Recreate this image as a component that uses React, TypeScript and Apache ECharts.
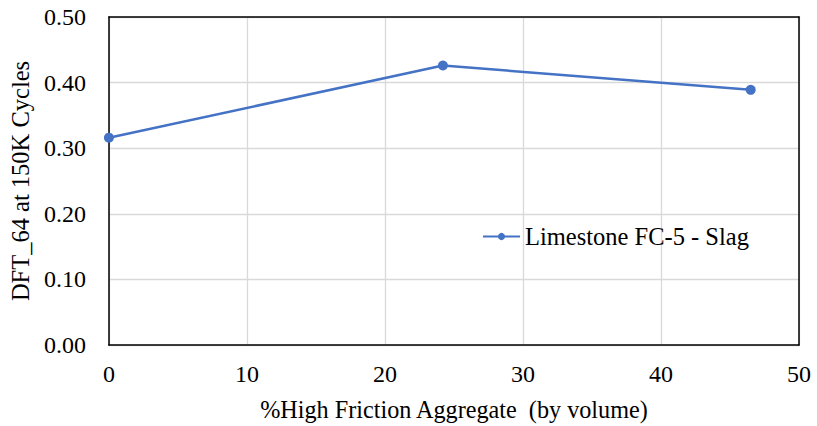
import React, { useEffect, useRef } from "react";
import * as echarts from "echarts";

const xValues = [0, 24.2, 46.5];
const yValues = [0.316, 0.426, 0.389];
const seriesName = "Limestone FC-5 - Slag";
const xTitle = "%High Friction Aggregate  (by volume)";
const yTitle = "DFT_64 at 150K Cycles";

export default function App() {
  const ref = useRef<HTMLDivElement>(null);
  useEffect(() => {
    if (!ref.current) return;
    const chart = echarts.init(ref.current, undefined, { renderer: "svg" });
    const font = "Liberation Serif";
    const txt = { fontFamily: font, fontSize: 24, color: "#000" };
    const border = { show: true, lineStyle: { color: "#000", width: 1.5 } };
    chart.setOption({
      animation: false,
      backgroundColor: "#ffffff",
      textStyle: { fontFamily: font },
      grid: {
        left: 105,
        top: 17,
        right: 18,
        bottom: 80,
        show: false,
        containLabel: false,
      },
      legend: {
        show: true,
        left: 477,
        top: 219,
        itemWidth: 37,
        itemHeight: 9,
        itemGap: 4,
        textStyle: { ...txt, fontSize: 24.5 },
        data: [seriesName],
      },
      xAxis: [
        {
          type: "value",
          min: 0,
          max: 50,
          interval: 10,
          name: xTitle,
          nameLocation: "middle",
          nameGap: 52,
          nameTextStyle: { ...txt, fontSize: 24.2 },
          axisLine: border,
          axisTick: { show: false },
          axisLabel: { margin: 17, ...txt },
          splitLine: { show: true, lineStyle: { color: "#d9d9d9", width: 1.3 } },
          z: 3,
        },
        {
          type: "value",
          position: "top",
          min: 0,
          max: 50,
          interval: 10,
          axisLine: { ...border, onZero: false },
          axisTick: { show: false },
          axisLabel: { show: false },
          splitLine: { show: false },
          z: 3,
        },
      ],
      yAxis: [
        {
          type: "value",
          min: 0,
          max: 0.5,
          interval: 0.1,
          name: yTitle,
          nameLocation: "middle",
          nameGap: 72,
          nameTextStyle: { ...txt, fontSize: 24.5 },
          axisLine: border,
          axisTick: { show: false },
          axisLabel: {
            margin: 23,
            ...txt,
            formatter: (v: number) => v.toFixed(2),
          },
          splitLine: { show: true, lineStyle: { color: "#d9d9d9", width: 1.3 } },
          z: 3,
        },
        {
          type: "value",
          position: "right",
          min: 0,
          max: 0.5,
          interval: 0.1,
          axisLine: { ...border, onZero: false },
          axisTick: { show: false },
          axisLabel: { show: false },
          splitLine: { show: false },
          z: 3,
        },
      ],
      series: [
        {
          name: seriesName,
          type: "line",
          data: xValues.map((x, i) => [x, yValues[i]]),
          symbol: "circle",
          symbolSize: 10,
          lineStyle: { color: "#4472C4", width: 2.5 },
          itemStyle: { color: "#4472C4" },
          z: 5,
        },
      ],
    });
    return () => chart.dispose();
  }, []);
  return <div ref={ref} style={{ width: 817, height: 426, position: "absolute", left: 0, top: 0 }} />;
}
